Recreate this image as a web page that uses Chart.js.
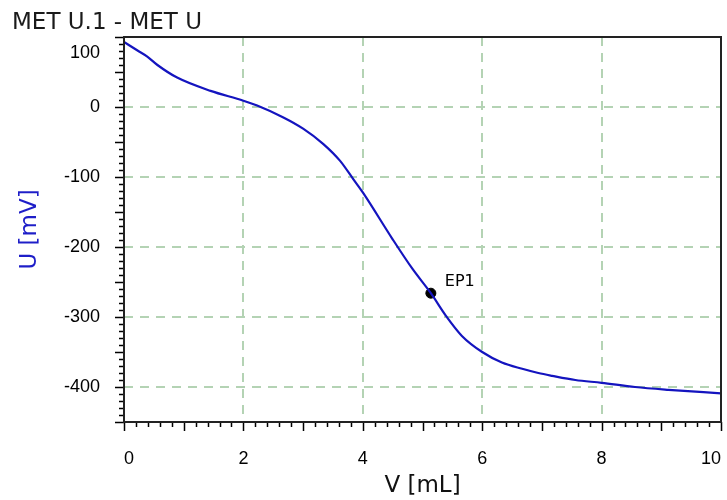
<!DOCTYPE html>
<html lang="en">

<head>
    <meta charset="UTF-8">
    <title>MET U.1 - MET U</title>
    <script src="https://cdn.jsdelivr.net/npm/chart.js"></script>
    <style>
        html, body { margin: 0; padding: 0; background: #fff; }
        #wrap { width: 727px; height: 500px; }
    </style>
</head>

<body>
    <div id="wrap"><canvas id="titration"></canvas></div>
    <script>
        // titration curve
        const vol = [0, 0.22, 0.39, 0.56, 0.89, 1.45, 2.0, 2.23, 2.67, 3.0, 3.34, 3.62, 3.84, 4.0, 4.5, 4.83, 5.14, 5.39, 5.66, 6.0, 6.33, 6.67, 6.94, 7.17, 7.56, 8.0, 8.56, 9.12, 10.0];
        const pot = [93, 81, 72, 60, 42, 23, 9, 2, -15, -31, -53, -77, -103, -122, -189, -231, -266, -298, -327, -350, -365, -374, -380, -384, -390, -394, -400, -404, -409];

        // equivalence point
        const epVol = [5.14];
        const epPot = [-266];
        const epNames = ['EP1'];

        const chartTitle = 'MET U.1 - MET U';
        const xTitle = 'V [mL]';
        const yTitle = 'U [mV]';

        const gridGreen = '#b4d3b4';
        const tickFont = { family: 'Liberation Sans', size: 18 };
        const near = (v, step) => Math.abs(v - Math.round(v / step) * step) < 1e-6;

        // title, tick marks, frame, labels
        const decor = {
            id: 'decor',
            afterDraw(chart) {
                const ctx = chart.ctx;
                const a = chart.chartArea;
                const xs = chart.scales.x, ys = chart.scales.y;
                ctx.save();
                ctx.strokeStyle = '#000';
                ctx.lineWidth = 1.5;
                ctx.beginPath();
                for (let i = 0; i <= 50; i++) {
                    const px = Math.round(xs.getPixelForValue(i * 0.2)) + 0.5;
                    const len = i % 5 === 0 ? 9 : 5;
                    ctx.moveTo(px, a.bottom);
                    ctx.lineTo(px, a.bottom + len);
                }
                for (let i = 0; i <= 55; i++) {
                    const v = -450 + i * 10;
                    const py = Math.round(ys.getPixelForValue(v)) + 0.5;
                    const len = v % 50 === 0 ? 9 : 5;
                    ctx.moveTo(a.left, py);
                    ctx.lineTo(a.left - len, py);
                }
                ctx.stroke();

                // frame
                ctx.lineWidth = 2;
                ctx.strokeStyle = '#222';
                ctx.strokeRect(a.left, a.top, a.right - a.left, a.bottom - a.top);

                // top tick label sits lower in the original
                ctx.fillStyle = '#000';
                ctx.font = '18px "Liberation Sans"';
                ctx.textAlign = 'right';
                ctx.textBaseline = 'middle';
                ctx.fillText('100', a.left - 24, ys.getPixelForValue(100) + 16);

                // EP label
                ctx.font = '16px "DejaVu Sans"';
                epVol.forEach((v, i) => {
                    ctx.textAlign = 'left';
                    ctx.fillText(epNames[i], xs.getPixelForValue(v) + 14, ys.getPixelForValue(epPot[i]) - 11);
                });

                // chart title
                ctx.fillStyle = '#1a1a1a';
                ctx.font = '23px "DejaVu Sans"';
                ctx.fillText(chartTitle, 12, 23);
                ctx.restore();
            }
        };

        new Chart(document.getElementById('titration'), {
            type: 'line',
            data: {
                datasets: [{
                    data: vol.map((v, i) => ({ x: v, y: pot[i] })),
                    borderColor: '#1414bf',
                    borderWidth: 2.2,
                    pointRadius: 0,
                    cubicInterpolationMode: 'monotone',
                    fill: false
                }, {
                    data: epVol.map((v, i) => ({ x: v, y: epPot[i] })),
                    showLine: false,
                    pointRadius: 5,
                    pointBackgroundColor: '#000',
                    pointBorderColor: '#000'
                }]
            },
            options: {
                responsive: true,
                maintainAspectRatio: false,
                animation: false,
                layout: { padding: { top: 37, right: 4, bottom: 0, left: 0 } },
                plugins: { legend: { display: false }, tooltip: { enabled: false } },
                scales: {
                    x: {
                        type: 'linear',
                        min: 0,
                        max: 10,
                        afterFit: s => { s.height = 78; s.paddingLeft = 0; s.paddingRight = 0; },
                        ticks: {
                            stepSize: 0.2,
                            autoSkip: false,
                            maxRotation: 0,
                            align: 'inner',
                            padding: 26,
                            color: '#000',
                            font: tickFont,
                            callback: v => near(v, 2) ? String(Math.round(v)) : ''
                        },
                        grid: {
                            drawTicks: false,
                            lineWidth: 2,
                            color: c => near(c.tick.value, 2) ? gridGreen : 'rgba(0,0,0,0)'
                        },
                        border: { display: false, dash: [9, 7] },
                        title: {
                            display: true,
                            text: xTitle,
                            color: '#111',
                            font: { family: 'DejaVu Sans', size: 23 },
                            padding: { top: 0, bottom: 0 }
                        }
                    },
                    y: {
                        min: -450,
                        max: 100,
                        afterFit: s => { s.width = 124; s.paddingTop = 0; s.paddingBottom = 0; },
                        ticks: {
                            stepSize: 10,
                            autoSkip: false,
                            padding: 24,
                            color: '#000',
                            font: tickFont,
                            callback: v => (near(v, 100) && v !== 100) ? String(Math.round(v)) : ''
                        },
                        grid: {
                            drawTicks: false,
                            lineWidth: 2,
                            color: c => near(c.tick.value, 100) ? gridGreen : 'rgba(0,0,0,0)'
                        },
                        border: { display: false, dash: [9, 7] },
                        title: {
                            display: true,
                            text: yTitle,
                            color: '#1e1ec8',
                            font: { family: 'DejaVu Sans', size: 23 },
                            padding: { top: 16, bottom: 0 }
                        }
                    }
                }
            },
            plugins: [decor]
        });
    </script>
</body>

</html>
